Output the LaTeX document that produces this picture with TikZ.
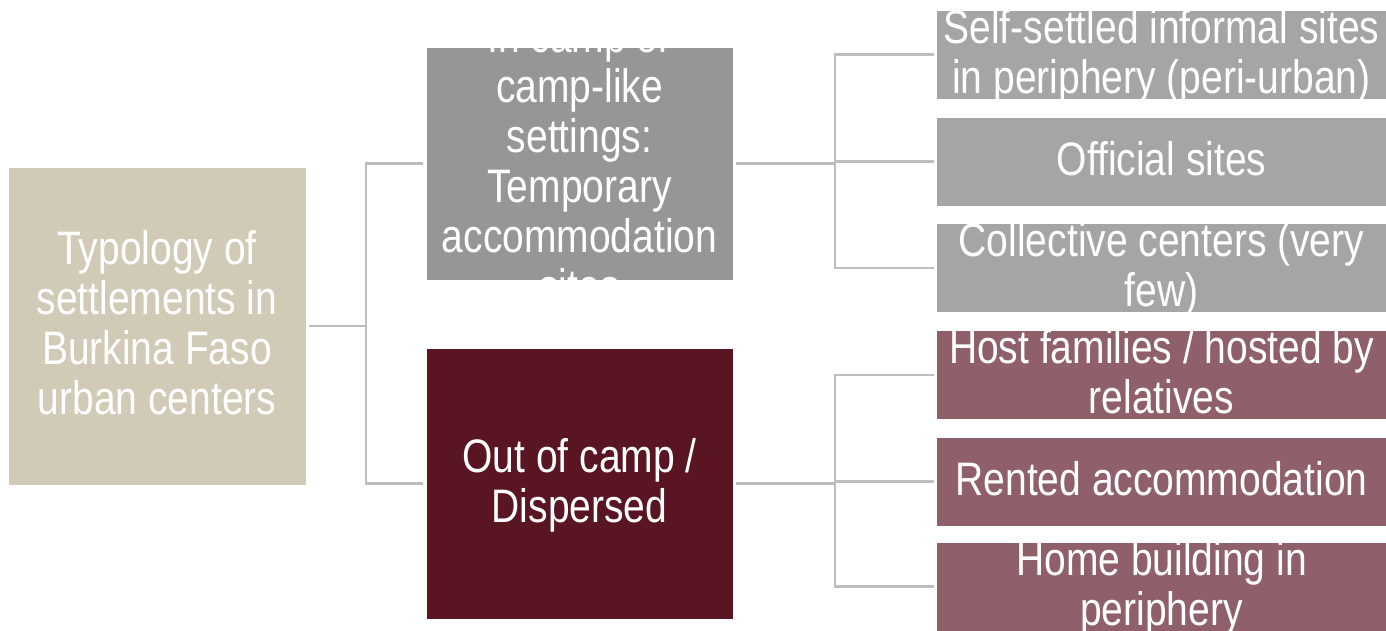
\documentclass[tikz,border=0pt]{standalone}
\usepackage{fontspec}
\setmainfont[FakeStretch=0.83]{Liberation Sans}

\definecolor{roottan}{RGB}{209,202,183}
\definecolor{campgray}{RGB}{150,150,150}
\definecolor{outmaroon}{RGB}{90,21,34}
\definecolor{leafgray}{RGB}{165,165,165}
\definecolor{leafmauve}{RGB}{143,96,105}
\definecolor{linegray}{RGB}{190,190,190}

% line strut: 38.5pt above and 11.5pt below the baseline
\newcommand\lnstrut{\rule[-11.5pt]{0pt}{50pt}}

\begin{document}
\begin{tikzpicture}[x=1pt,y=-1pt,
  panel/.style={draw=white, line width=1pt, inner sep=0pt, outer sep=0pt},
  txt/.style={text=white, align=center, inner sep=0pt,
    font=\fontsize{47}{50}\selectfont},
  conn/.style={draw=linegray, line width=2.5pt}]

\useasboundingbox (0,0) rectangle (1386,630);
\clip (0,0) rectangle (1386,630);

% boxes
\node[panel, fill=roottan, minimum width=298pt, minimum height=318pt] (root) at (157,326) {};
\node[panel, fill=campgray, minimum width=307pt, minimum height=233pt] (incamp) at (579.5,163.5) {};
\node[panel, fill=outmaroon, minimum width=307pt, minimum height=271pt] (outcamp) at (579.5,483.5) {};

\node[panel, fill=leafgray, minimum width=450pt, minimum height=89pt] (a1) at (1161.5,54.5) {};
\node[panel, fill=leafgray, minimum width=450pt, minimum height=89pt] (a2) at (1161.5,161.5) {};
\node[panel, fill=leafgray, minimum width=450pt, minimum height=89pt] (a3) at (1161.5,268) {};
\node[panel, fill=leafmauve, minimum width=450pt, minimum height=89pt] (b1) at (1161.5,375) {};
\node[panel, fill=leafmauve, minimum width=450pt, minimum height=89pt] (b2) at (1161.5,481.5) {};
\node[panel, fill=leafmauve, minimum width=450pt, minimum height=89pt] (b3) at (1161.5,586.5) {};

% texts
\node[txt] (roott) at (root.center) {\lnstrut Typology of\\\lnstrut settlements in\\\lnstrut Burkina Faso\\\lnstrut urban centers};
\node[txt] (incampt) at (incamp.center) {\lnstrut In camp or\\\lnstrut camp-like\\\lnstrut settings:\\\lnstrut Temporary\\\lnstrut accommodation\\\lnstrut sites};
\node[txt] (outcampt) at (outcamp.center) {\lnstrut Out of camp /\\\lnstrut Dispersed};
\node[txt] (a1t) at (a1.center) {\lnstrut Self-settled informal sites\\\lnstrut in periphery (peri-urban)};
\node[txt] (a2t) at (a2.center) {\lnstrut Official sites};
\node[txt] (a3t) at (a3.center) {\lnstrut Collective centers (very\\\lnstrut few)};
\node[txt] (b1t) at (b1.center) {\lnstrut Host families / hosted by\\\lnstrut relatives};
\node[txt] (b2t) at (b2.center) {\lnstrut Rented accommodation};
\node[txt] (b3t) at (b3.center) {\lnstrut Home building in\\\lnstrut periphery};

% connectors
\path (root.east) ++(60,0) coordinate (j0);
\path (incamp.east) ++(102,0) coordinate (j1);
\path (outcamp.east) ++(102,0) coordinate (j2);

\draw[conn] ([xshift=3pt]root.east) -- (j0);
\draw[conn] ([xshift=-3pt]incamp.west) -| (j0) |- ([xshift=-3pt]outcamp.west);

\draw[conn] ([xshift=3pt]incamp.east) -- (j1);
\draw[conn] ([xshift=-3pt]a1.west) -| (j1) |- ([xshift=-3pt]a3.west);
\draw[conn] (j1 |- a2.west) -- ([xshift=-3pt]a2.west);

\draw[conn] ([xshift=3pt]outcamp.east) -- (j2);
\draw[conn] ([xshift=-3pt]b1.west) -| (j2) |- ([xshift=-3pt]b3.west);
\draw[conn] (j2 |- b2.west) -- ([xshift=-3pt]b2.west);
\end{tikzpicture}
\end{document}
